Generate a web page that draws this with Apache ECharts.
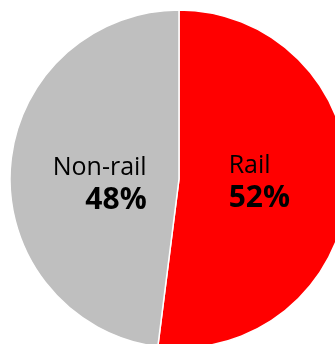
<!DOCTYPE html>
<html>
<head>
<meta charset="utf-8">
<script src="https://cdn.jsdelivr.net/npm/echarts@6/dist/echarts.min.js"></script>
<style>
  html, body { margin: 0; padding: 0; background: #fff; }
  #chart { width: 335px; height: 344px; }
</style>
</head>
<body>
<div id="chart"></div>
<script>
// shares of the total
const categories = ['Rail', 'Non-rail']
const shares = [52, 48]
const colours = ['#ff0000', '#bfbfbf']

const chart = echarts.init(document.getElementById('chart'))

const data = categories.map((name, i) => {
  const left = i === 0
  return {
    name: name,
    value: shares[i],
    itemStyle: { color: colours[i] },
    label: {
      offset: left ? [-7, -2] : [8, 11],
      rich: {
        n: { fontSize: 25, color: '#000', fontFamily: 'Open Sans', align: left ? 'left' : 'right', lineHeight: 32 },
        p: { fontSize: 30, fontWeight: 'bold', color: '#000', fontFamily: 'Open Sans', align: left ? 'left' : 'right', lineHeight: 34 }
      }
    }
  }
})

const option = {
  animation: false,
  series: [
    {
      type: 'pie',
      center: [179, 179],
      radius: [0, 169],
      startAngle: 90,
      clockwise: true,
      itemStyle: { borderColor: '#fff', borderWidth: 1.5 },
      label: {
        show: true,
        position: 'inside',
        formatter: p => '{n|' + p.name + '}\n{p|' + p.value + '%}'
      },
      labelLine: { show: false },
      emphasis: { disabled: true },
      data: data
    }
  ]
}
chart.setOption(option)
</script>
</body>
</html>
